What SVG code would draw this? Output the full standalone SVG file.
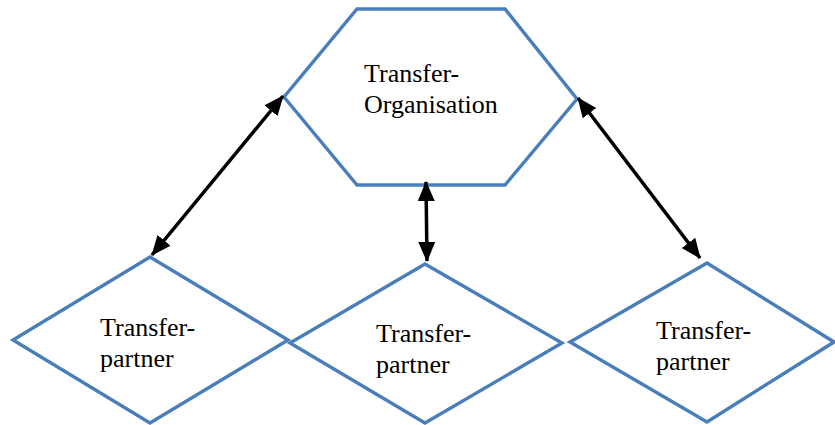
<svg xmlns="http://www.w3.org/2000/svg" width="835" height="425" viewBox="0 0 835 425">
  <style>
    .shape { fill: #ffffff; stroke: #4a7ebb; stroke-width: 3.4; stroke-linejoin: miter; }
    .label { font-family: "Liberation Serif", "Times New Roman", serif; font-size: 26px; fill: #000000; }
    .link { stroke: #000000; stroke-width: 3.5; fill: none; }
  </style>
  <defs>
    <marker id="head" markerUnits="userSpaceOnUse" markerWidth="20" markerHeight="18" refX="19" refY="8.5" orient="auto-start-reverse">
      <path d="M0,0 L20,8.5 L0,17 Z" fill="#000000"/>
    </marker>
  </defs>

  <!-- central organisation -->
  <g id="org">
    <polygon class="shape" points="357,9 505,9 577,99 505,185 357,185 284,97"/>
    <text class="label" x="364" y="82">Transfer-</text>
    <text class="label" x="364" y="113">Organisation</text>
  </g>

  <!-- partners -->
  <g id="partner-left">
    <polygon class="shape" points="150,257 288,340 150,423 13,340"/>
    <text class="label" x="100" y="336">Transfer-</text>
    <text class="label" x="100" y="367">partner</text>
  </g>
  <g id="partner-middle">
    <polygon class="shape" points="425,264 562,343 425,423 290,343"/>
    <text class="label" x="376" y="342">Transfer-</text>
    <text class="label" x="376" y="373">partner</text>
  </g>
  <g id="partner-right">
    <polygon class="shape" points="707,263 834,342 707,422 570,342"/>
    <text class="label" x="656" y="339">Transfer-</text>
    <text class="label" x="656" y="370">partner</text>
  </g>

  <!-- two-way links -->
  <g id="connectors">
    <line class="link" x1="283" y1="96" x2="152" y2="255" marker-start="url(#head)" marker-end="url(#head)"/>
    <line class="link" x1="426" y1="182" x2="427" y2="261" marker-start="url(#head)" marker-end="url(#head)"/>
    <line class="link" x1="578" y1="98" x2="700" y2="258" marker-start="url(#head)" marker-end="url(#head)"/>
  </g>
</svg>
